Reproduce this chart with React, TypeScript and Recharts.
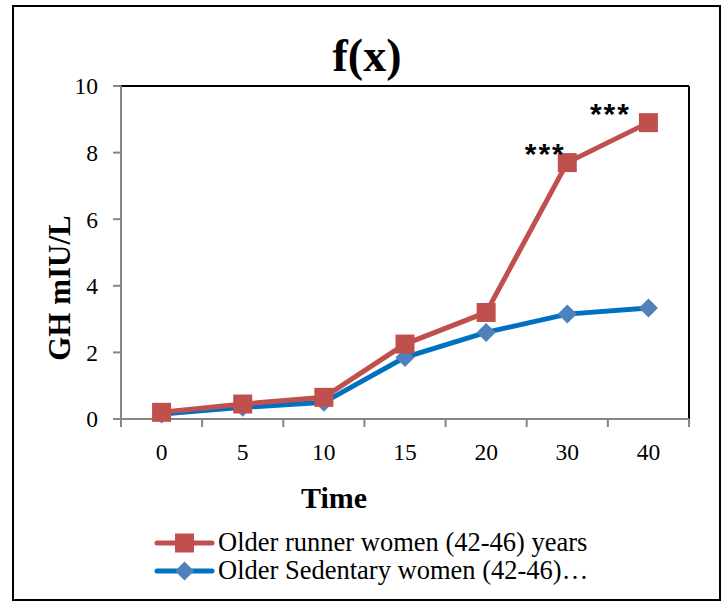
import { LineChart, Line, XAxis, YAxis, ReferenceLine, Legend, LabelList } from "recharts";

const times = ["0", "5", "10", "15", "20", "30", "40"];
const runner = [0.2, 0.45, 0.65, 2.25, 3.2, 7.7, 8.9];
const sedentary = [0.15, 0.35, 0.5, 1.85, 2.6, 3.15, 3.33];
const stars = ["", "", "", "", "", "***", "***"];
const yTicks = [0, 2, 4, 6, 8, 10];

const data = times.map((t, i) => ({
  idx: i,
  time: t,
  runner: runner[i],
  sedentary: sedentary[i],
  star: stars[i],
}));

// labels sit on the categories, tick marks on the boundaries between them
const xTicks = times
  .flatMap((_, i) => [i - 0.5, i])
  .concat(times.length - 0.5);

const serif = "'Liberation Serif', 'Times New Roman', serif";
const RED = "#C0504D";
const BLUE_LINE = "#0070C0";
const BLUE_DOT = "#4F81BD";
const AXIS = "#868686";

const Square = (props: any) => {
  const { cx, cy } = props;
  if (cx == null || cy == null) return null;
  return <rect x={cx - 9.5} y={cy - 9.5} width={19} height={19} fill={RED} />;
};

const Diamond = (props: any) => {
  const { cx, cy } = props;
  if (cx == null || cy == null) return null;
  const r = 9.5;
  return (
    <polygon
      points={`${cx},${cy - r} ${cx + r},${cy} ${cx},${cy + r} ${cx - r},${cy}`}
      fill={BLUE_DOT}
    />
  );
};

const XTick = (props: any) => {
  const { x, y, payload } = props;
  const v = payload.value;
  if (Number.isInteger(v)) {
    return (
      <text x={x} y={y + 41} textAnchor="middle" fontFamily={serif} fontSize={23.5} fill="#000">
        {times[v]}
      </text>
    );
  }
  return <line x1={x} x2={x} y1={y} y2={y + 8} stroke={AXIS} strokeWidth={2} />;
};

const starDx = [0, 0, 0, 0, 0, -22, -38];

const StarLabel = (props: any) => {
  const { x, y, index } = props;
  const s = stars[index];
  if (!s) return null;
  return (
    <text
      x={x + starDx[index]}
      y={y + 1}
      textAnchor="middle"
      fontFamily="'Liberation Sans', Arial, sans-serif"
      fontWeight="bold"
      fontSize={30}
      letterSpacing={2}
      fill="#000"
    >
      {s}
    </text>
  );
};

const LegendBox = () => (
  <svg width={480} height={60}>
    <line x1={7} x2={62} y1={16} y2={16} stroke={RED} strokeWidth={5} strokeLinecap="round" />
    <Square cx={34.5} cy={16} />
    <text x={68} y={24} fontFamily={serif} fontSize={26.5} fill="#000">
      Older runner women (42-46) years
    </text>
    <line x1={7} x2={62} y1={44} y2={44} stroke={BLUE_LINE} strokeWidth={5} strokeLinecap="round" />
    <Diamond cx={34.5} cy={44} />
    <text x={68} y={52} fontFamily={serif} fontSize={26.5} fill="#000">
      Older Sedentary women (42-46)…
    </text>
  </svg>
);

export default function App() {
  return (
    <div style={{ position: "absolute", left: 0, top: 0, width: 725, height: 601, background: "#fff" }}>
      <LineChart
        width={725}
        height={601}
        data={data}
        margin={{ top: 86, right: 36, left: 61, bottom: 142 }}
      >
        <rect x={13} y={6} width={707} height={594} fill="none" stroke="#000" strokeWidth={2} />
        <text x={367} y={71} textAnchor="middle" fontFamily={serif} fontWeight="bold" fontSize={46} fill="#000">
          f(x)
        </text>
        <text
          x={70}
          y={288}
          transform="rotate(-90, 70, 288)"
          textAnchor="middle"
          fontFamily={serif}
          fontWeight="bold"
          fontSize={31}
          fill="#000"
        >
          GH mIU/L
        </text>
        <text x={334} y={508} textAnchor="middle" fontFamily={serif} fontWeight="bold" fontSize={30} fill="#000">
          Time
        </text>
        <XAxis
          dataKey="idx"
          type="number"
          domain={[-0.5, times.length - 0.5]}
          ticks={xTicks}
          interval={0}
          tick={<XTick />}
          tickLine={false}
          tickSize={0}
          tickMargin={0}
          height={40}
          axisLine={{ stroke: AXIS, strokeWidth: 2 }}
        />
        <YAxis
          type="number"
          domain={[0, 10]}
          ticks={yTicks}
          interval={0}
          width={60}
          tickSize={8}
          tickMargin={15}
          tickLine={{ stroke: AXIS, strokeWidth: 2 }}
          axisLine={{ stroke: AXIS, strokeWidth: 2 }}
          tick={{ fill: "#000", fontFamily: serif, fontSize: 23.5 }}
        />
        <ReferenceLine y={10} stroke="#000" strokeWidth={2} />
        <ReferenceLine x={times.length - 0.5} stroke="#000" strokeWidth={2} />
        <Line
          dataKey="sedentary"
          stroke={BLUE_LINE}
          strokeWidth={5}
          dot={<Diamond />}
          activeDot={false}
          isAnimationActive={false}
        />
        <Line
          dataKey="runner"
          stroke={RED}
          strokeWidth={5}
          dot={<Square />}
          activeDot={false}
          isAnimationActive={false}
        >
          <LabelList dataKey="star" content={<StarLabel />} />
        </Line>
        <Legend
          layout="horizontal"
          verticalAlign="middle"
          align="center"
          content={<LegendBox />}
          wrapperStyle={{ position: "absolute", left: 150, top: 527, width: 480 }}
        />
      </LineChart>
    </div>
  );
}
